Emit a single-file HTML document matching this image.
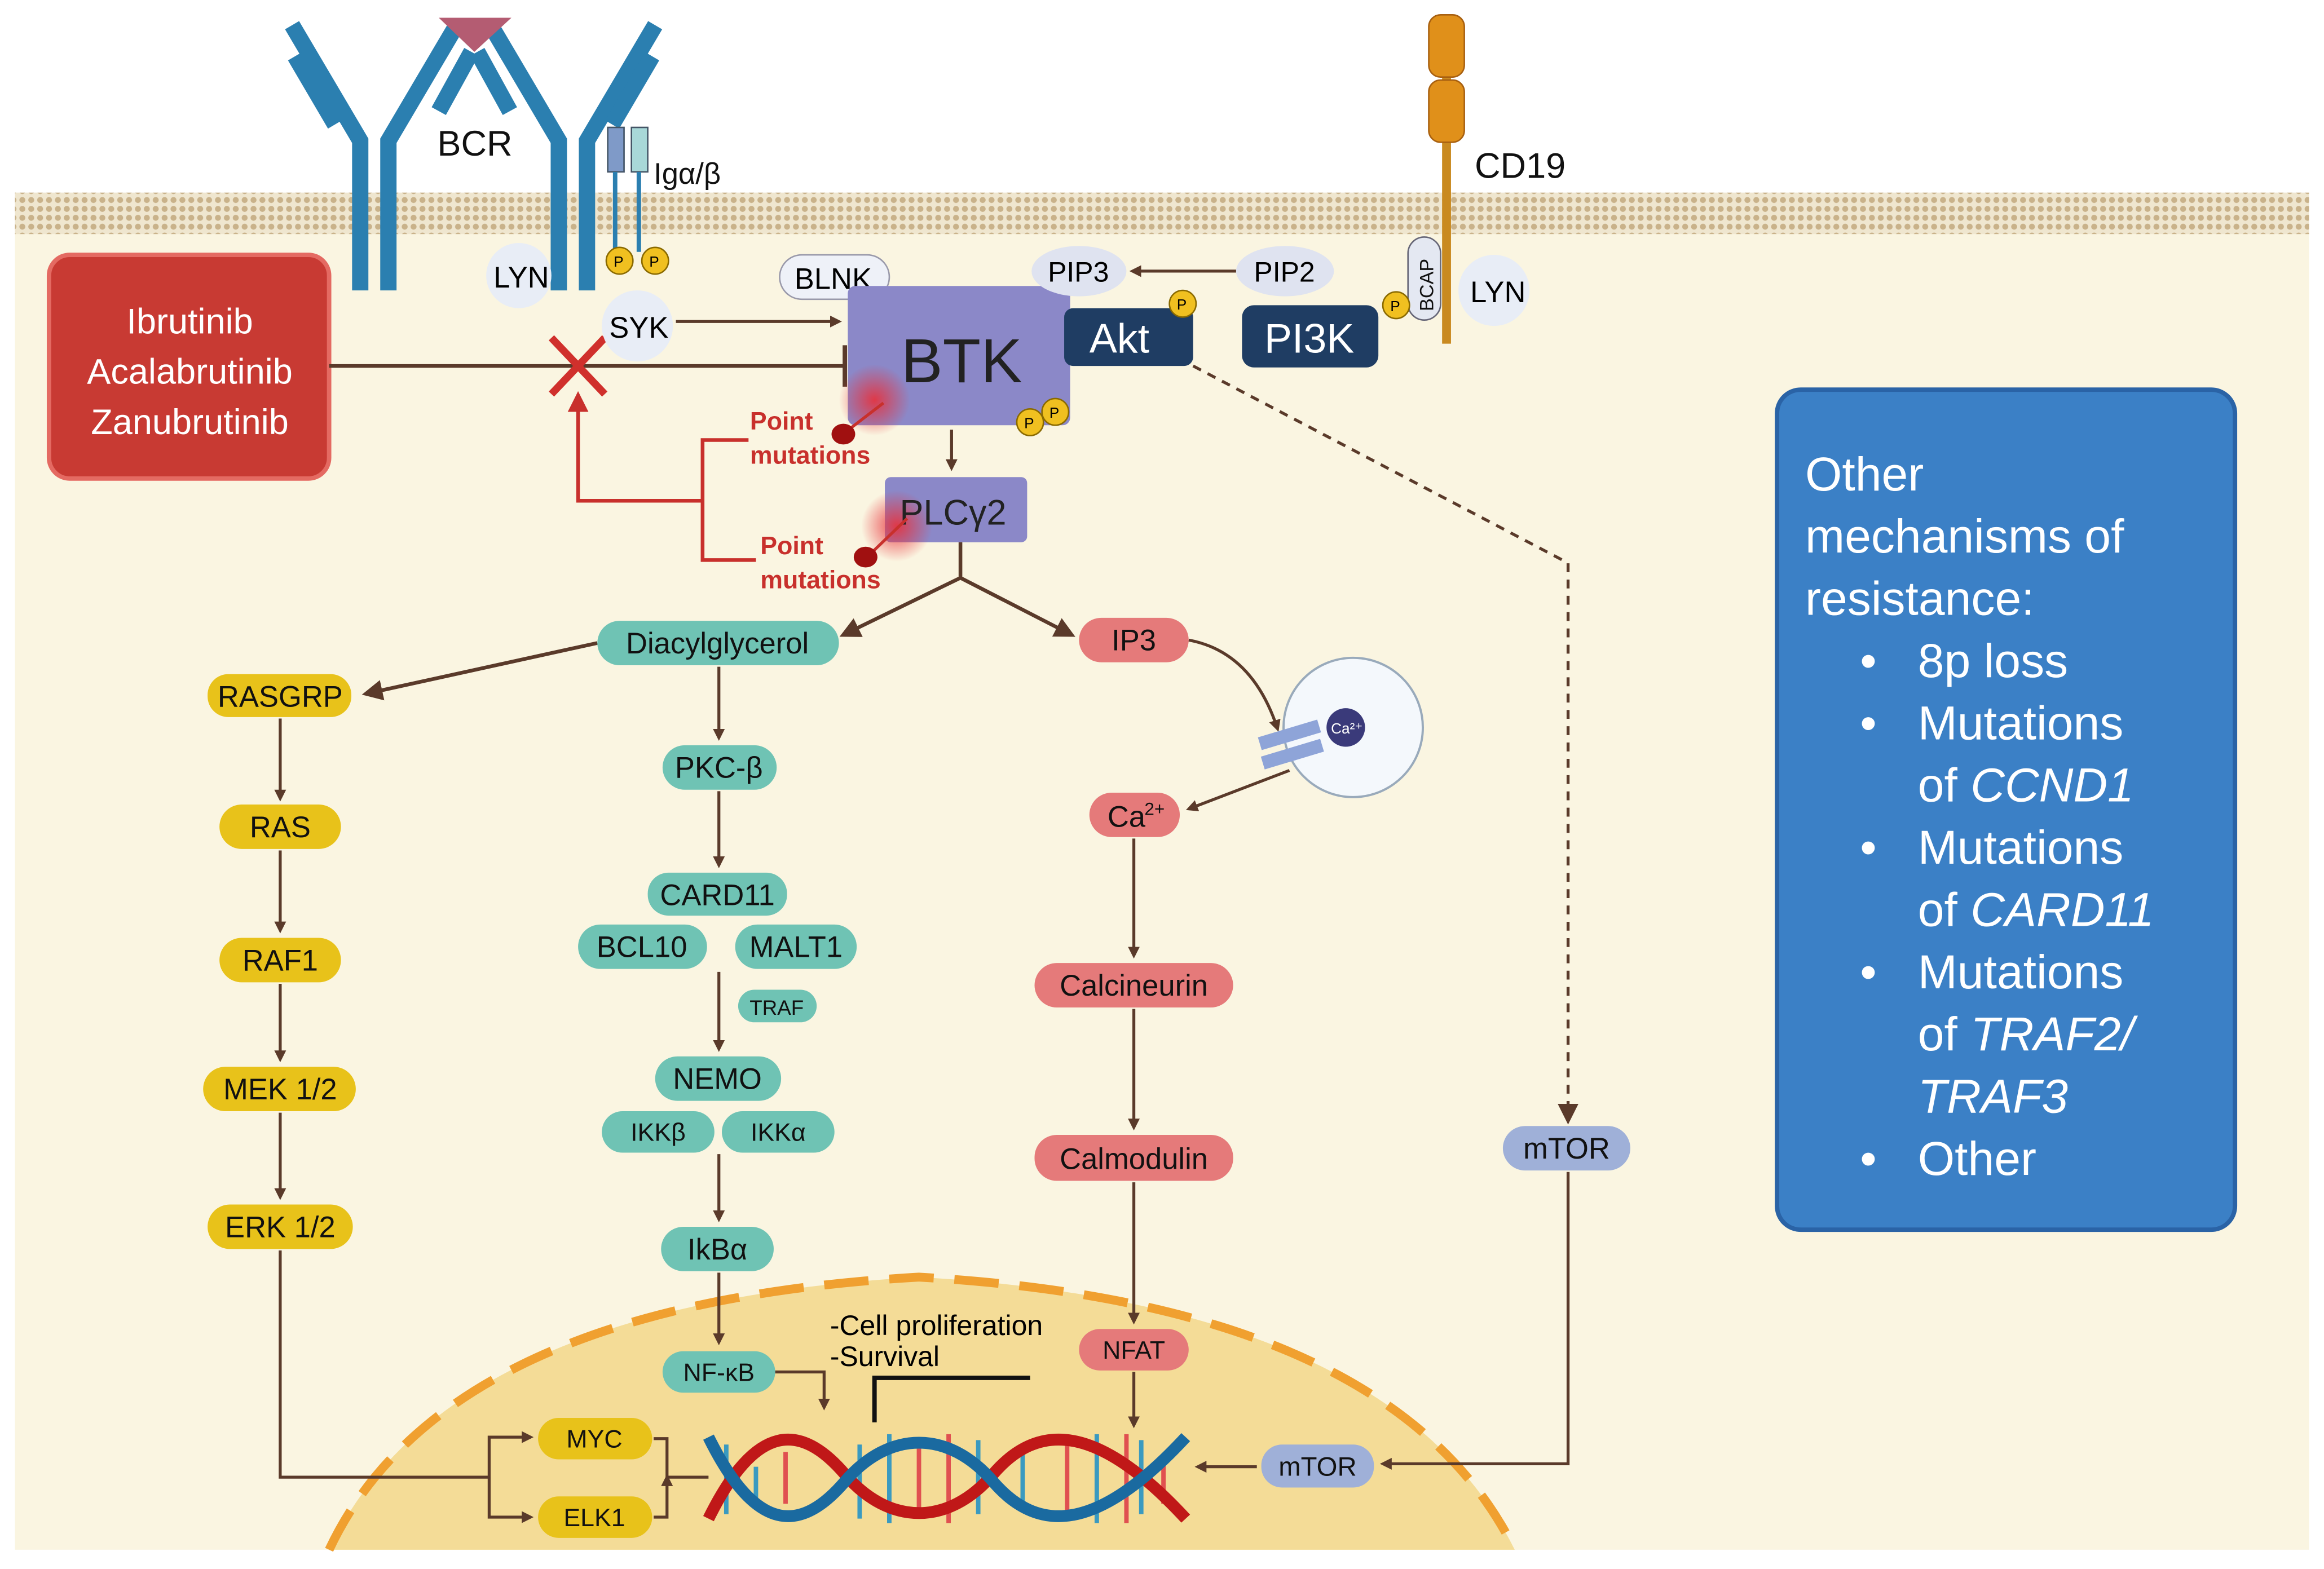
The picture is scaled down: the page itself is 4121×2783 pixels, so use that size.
<!DOCTYPE html>
<html><head><meta charset="utf-8"><style>
html,body{margin:0;padding:0;background:#fff}
svg{display:block}
text{font-family:"Liberation Sans",sans-serif}
</style></head><body>
<svg width="4121" height="2783" viewBox="0 0 1568 1059" xmlns="http://www.w3.org/2000/svg">
<defs>
<marker id="a" markerWidth="8" markerHeight="8" refX="6" refY="4" orient="auto" markerUnits="userSpaceOnUse" viewBox="0 0 8 8"><path d="M0,0 L8,4 L0,8 z" fill="#5a3a2a"/></marker>
<marker id="ab" markerWidth="14" markerHeight="14" refX="10" refY="7" orient="auto" markerUnits="userSpaceOnUse" viewBox="0 0 14 14"><path d="M0,0 L14,7 L0,14 z" fill="#5a3a2a"/></marker>
<marker id="ar" markerWidth="14" markerHeight="14" refX="10" refY="7" orient="auto" markerUnits="userSpaceOnUse" viewBox="0 0 14 14"><path d="M0,0 L14,7 L0,14 z" fill="#c8302c"/></marker>
<pattern id="mem" width="6" height="6" patternUnits="userSpaceOnUse"><rect width="6" height="6" fill="#efe6cf"/><circle cx="3" cy="3" r="2" fill="#c9b28a"/></pattern>
<radialGradient id="glow"><stop offset="0" stop-color="#e8303a" stop-opacity="0.9"/><stop offset="1" stop-color="#e8303a" stop-opacity="0"/></radialGradient>
</defs>
<rect width="1568" height="1059" fill="#fff"/>
<rect x="10" y="150" width="1548" height="896" fill="#faf5e1"/>
<rect x="10" y="130" width="1548" height="28" fill="url(#mem)"/>
<!-- nucleus -->
<path d="M222,1046 Q300,880 620,862 Q940,880 1022,1046 Z" fill="#f4dc97"/>
<path d="M222,1046 Q300,880 620,862 Q940,880 1022,1046" fill="none" stroke="#f0a030" stroke-width="6" stroke-dasharray="30,14"/>
<!-- BCR -->
<g stroke="#2b7fb0" stroke-width="11" fill="none" stroke-linecap="butt">
<path d="M243,196 V95 L197,17"/><path d="M262,196 V95 L308,17"/>
<path d="M377,196 V95 L331,17"/><path d="M396,196 V95 L442,17"/>
<path d="M226,84 L199,38"/><path d="M296,75 L318,35"/><path d="M344,75 L322,35"/><path d="M413,84 L440,38"/>
</g>
<path d="M296,12 L345,12 L320,35 Z" fill="#b45c72"/>
<text x="295" y="105" font-size="24" fill="#111">BCR</text>
<rect x="410" y="86" width="11" height="30" fill="#7f9ac8" stroke="#456" stroke-width="1"/>
<rect x="426" y="86" width="11" height="30" fill="#a8d8d8" stroke="#456" stroke-width="1"/>
<line x1="415" y1="116" x2="415" y2="170" stroke="#2b7fb0" stroke-width="3"/>
<line x1="431" y1="116" x2="431" y2="170" stroke="#2b7fb0" stroke-width="3"/>
<text x="441" y="124" font-size="20" fill="#111">Igα/β</text>
<circle cx="418" cy="176" r="9" fill="#f0c020" stroke="#8a6a00"/><text x="414" y="180" font-size="10">P</text>
<circle cx="442" cy="176" r="9" fill="#f0c020" stroke="#8a6a00"/><text x="438" y="180" font-size="10">P</text>
<!-- CD19 -->
<line x1="976" y1="40" x2="976" y2="232" stroke="#c98a20" stroke-width="6"/>
<rect x="964" y="10" width="24" height="42" rx="8" fill="#e0901a" stroke="#a86010"/>
<rect x="964" y="54" width="24" height="42" rx="8" fill="#e0901a" stroke="#a86010"/>
<text x="995" y="120" font-size="24" fill="#111">CD19</text>
<rect x="950" y="160" width="22" height="56" rx="11" fill="#e4e8f2" stroke="#667"/>
<text x="967" y="210" font-size="13" transform="rotate(-90 967 210)" fill="#111">BCAP</text>
<circle cx="942" cy="206" r="9" fill="#f0c020" stroke="#8a6a00"/><text x="938" y="210" font-size="10">P</text>
<circle cx="1008" cy="196" r="24" fill="#e8edf6"/><text x="992" y="204" font-size="20">LYN</text>
<!-- drug box -->
<rect x="33" y="172" width="189" height="151" rx="14" fill="#c83a33" stroke="#e46a62" stroke-width="3"/>
<g font-size="24" fill="#fff" text-anchor="middle"><text x="128" y="225">Ibrutinib</text><text x="128" y="259">Acalabrutinib</text><text x="128" y="293">Zanubrutinib</text></g>
<line x1="222" y1="247" x2="570" y2="247" stroke="#5a3a2a" stroke-width="2.5"/>
<line x1="570" y1="233" x2="570" y2="261" stroke="#5a3a2a" stroke-width="3"/>
<path d="M372,228 L408,266 M408,228 L372,266" stroke="#d0302c" stroke-width="5"/>
<!-- LYN SYK BLNK -->
<circle cx="350" cy="186" r="22" fill="#e8edf6"/><text x="333" y="194" font-size="20">LYN</text>
<circle cx="430" cy="220" r="24" fill="#e8edf6"/><text x="411" y="228" font-size="20">SYK</text>
<line x1="456" y1="217" x2="566" y2="217" stroke="#5a3a2a" stroke-width="2" marker-end="url(#a)"/>
<rect x="526" y="172" width="74" height="30" rx="15" fill="#eef1f8" stroke="#99a"/><text x="536" y="195" font-size="20">BLNK</text>
<!-- BTK -->
<rect x="572" y="193" width="150" height="94" rx="5" fill="#8b88c8"/>
<text x="608" y="258" font-size="42" fill="#222">BTK</text>
<circle cx="695" cy="285" r="9" fill="#f0c020" stroke="#8a6a00"/><text x="691" y="289" font-size="10">P</text>
<circle cx="712" cy="278" r="9" fill="#f0c020" stroke="#8a6a00"/><text x="708" y="282" font-size="10">P</text>
<rect x="718" y="208" width="87" height="39" rx="6" fill="#1f3d63"/><text x="735" y="238" font-size="28" fill="#fff">Akt</text>
<circle cx="798" cy="205" r="9" fill="#f0c020" stroke="#8a6a00"/><text x="794" y="209" font-size="10">P</text>
<rect x="838" y="206" width="92" height="42" rx="8" fill="#1f3d63"/><text x="853" y="238" font-size="28" fill="#fff">PI3K</text>
<ellipse cx="728" cy="183" rx="32" ry="17" fill="#dfe3f0"/><text x="707" y="190" font-size="19">PIP3</text>
<ellipse cx="867" cy="183" rx="33" ry="17" fill="#dfe3f0"/><text x="846" y="190" font-size="19">PIP2</text>
<line x1="834" y1="183" x2="764" y2="183" stroke="#5a3a2a" stroke-width="2" marker-end="url(#a)"/>
<path d="M805,247 L1058,380 V755" fill="none" stroke="#5a3a2a" stroke-width="2" stroke-dasharray="6,5" marker-end="url(#ab)"/>
<!-- mutations -->
<circle cx="590" cy="270" r="24" fill="url(#glow)"/>
<line x1="570" y1="292" x2="596" y2="272" stroke="#c8302c" stroke-width="2"/>
<ellipse cx="569" cy="293" rx="8" ry="7" fill="#a01010"/>
<text x="506" y="290" font-size="17" fill="#c8302c" font-weight="bold">Point</text>
<text x="506" y="313" font-size="17" fill="#c8302c" font-weight="bold">mutations</text>
<line x1="642" y1="290" x2="642" y2="316" stroke="#5a3a2a" stroke-width="2" marker-end="url(#a)"/>
<rect x="597" y="322" width="96" height="44" rx="4" fill="#8b88c8"/>
<circle cx="605" cy="355" r="24" fill="url(#glow)"/>
<text x="607" y="354" font-size="24" fill="#222">PLCγ2</text>
<line x1="585" y1="376" x2="612" y2="350" stroke="#c8302c" stroke-width="2"/>
<ellipse cx="584" cy="376" rx="8" ry="7" fill="#a01010"/>
<text x="513" y="374" font-size="17" fill="#c8302c" font-weight="bold">Point</text>
<text x="513" y="397" font-size="17" fill="#c8302c" font-weight="bold">mutations</text>
<path d="M505,297 H474 V378 H510 M474,338 H390 V268" fill="none" stroke="#c8302c" stroke-width="2.5" marker-end="url(#ar)"/>
<!-- branches -->
<g stroke="#5a3a2a" stroke-width="2.5" fill="none">
<path d="M648,366 V390 L570,428" marker-end="url(#ab)"/>
<path d="M648,390 L722,428" marker-end="url(#ab)"/>
<path d="M403,434 L248,468" marker-end="url(#ab)"/>
</g>
<g stroke="#5a3a2a" stroke-width="2" fill="none" marker-end="url(#a)">
<line x1="189" y1="485" x2="189" y2="539"/><line x1="189" y1="574" x2="189" y2="628"/><line x1="189" y1="664" x2="189" y2="715"/><line x1="189" y1="751" x2="189" y2="808"/>
<line x1="485" y1="450" x2="485" y2="498"/><line x1="485" y1="534" x2="485" y2="584"/><line x1="485" y1="656" x2="485" y2="708"/><line x1="485" y1="779" x2="485" y2="823"/><line x1="485" y1="859" x2="485" y2="906"/>
<line x1="765" y1="566" x2="765" y2="645"/><line x1="765" y1="681" x2="765" y2="761"/><line x1="765" y1="798" x2="765" y2="892"/>
<line x1="765" y1="926" x2="765" y2="962"/>
<path d="M189,844 V997 H330 V970 H358"/><path d="M330,997 V1024 H358"/>
<path d="M1058,791 V988 H933"/>
<line x1="848" y1="990" x2="808" y2="990"/>
<path d="M441,971 H450 V997 H478 M441,1024 H450 V997"/>
<path d="M523,926 H556 V950"/>
<path d="M802,432 Q845,440 862,492"/>
<path d="M870,520 L802,546"/>
</g>
<!-- nodes -->
<g font-size="20" text-anchor="middle" fill="#111">
<rect x="403" y="419" width="163" height="30" rx="15" fill="#6fc3b4"/><text x="484" y="441">Diacylglycerol</text>
<rect x="728" y="417" width="74" height="30" rx="15" fill="#e57a7a"/><text x="765" y="439">IP3</text>
<rect x="140" y="455" width="97" height="29" rx="14" fill="#e8c21a"/><text x="189" y="477">RASGRP</text>
<rect x="148" y="543" width="82" height="30" rx="15" fill="#e8c21a"/><text x="189" y="565">RAS</text>
<rect x="148" y="633" width="82" height="30" rx="15" fill="#e8c21a"/><text x="189" y="655">RAF1</text>
<rect x="137" y="720" width="103" height="30" rx="15" fill="#e8c21a"/><text x="189" y="742">MEK 1/2</text>
<rect x="140" y="813" width="98" height="30" rx="15" fill="#e8c21a"/><text x="189" y="835">ERK 1/2</text>
<rect x="447" y="503" width="77" height="30" rx="15" fill="#6fc3b4"/><text x="485" y="525">PKC-β</text>
<rect x="437" y="589" width="94" height="29" rx="14" fill="#6fc3b4"/><text x="484" y="611">CARD11</text>
<rect x="390" y="624" width="87" height="30" rx="15" fill="#6fc3b4"/><text x="433" y="646">BCL10</text>
<rect x="496" y="624" width="82" height="30" rx="15" fill="#6fc3b4"/><text x="537" y="646">MALT1</text>
<rect x="498" y="668" width="53" height="22" rx="11" fill="#6fc3b4"/><text x="524" y="685" font-size="14">TRAF</text>
<rect x="442" y="713" width="85" height="30" rx="15" fill="#6fc3b4"/><text x="484" y="735">NEMO</text>
<rect x="406" y="750" width="76" height="28" rx="14" fill="#6fc3b4"/><text x="444" y="770" font-size="17">IKKβ</text>
<rect x="487" y="750" width="76" height="28" rx="14" fill="#6fc3b4"/><text x="525" y="770" font-size="17">IKKα</text>
<rect x="446" y="828" width="76" height="30" rx="15" fill="#6fc3b4"/><text x="484" y="850">IkBα</text>
<rect x="447" y="912" width="76" height="28" rx="14" fill="#6fc3b4"/><text x="485" y="932" font-size="17">NF-κB</text>
<rect x="735" y="535" width="61" height="30" rx="15" fill="#e57a7a"/><text x="760" y="558">Ca</text><text x="779" y="550" font-size="12">2+</text>
<rect x="698" y="650" width="134" height="30" rx="15" fill="#e57a7a"/><text x="765" y="672">Calcineurin</text>
<rect x="698" y="766" width="134" height="31" rx="15" fill="#e57a7a"/><text x="765" y="789">Calmodulin</text>
<rect x="728" y="897" width="74" height="28" rx="14" fill="#e57a7a"/><text x="765" y="917" font-size="17">NFAT</text>
<rect x="1014" y="760" width="86" height="30" rx="15" fill="#9fb0d8"/><text x="1057" y="782">mTOR</text>
<rect x="851" y="975" width="76" height="29" rx="14" fill="#9fb0d8"/><text x="889" y="996" font-size="18">mTOR</text>
<rect x="363" y="957" width="77" height="28" rx="14" fill="#e8c21a"/><text x="401" y="977" font-size="17">MYC</text>
<rect x="363" y="1010" width="77" height="28" rx="14" fill="#e8c21a"/><text x="401" y="1030" font-size="17">ELK1</text>
</g>
<!-- ER -->
<circle cx="913" cy="491" r="47" fill="#f4f8fc" stroke="#9ab" stroke-width="1.5"/>
<circle cx="908" cy="491" r="13" fill="#3a3a7a"/><text x="898" y="495" font-size="10" fill="#fff">Ca²⁺</text>
<path d="M850,502 L890,490 M852,515 L892,503" stroke="#8ea4d8" stroke-width="9"/>
<!-- text -->
<text x="560" y="901" font-size="19">-Cell proliferation</text>
<text x="560" y="922" font-size="19">-Survival</text>
<path d="M590,960 V930 H695" fill="none" stroke="#111" stroke-width="3"/>
<!-- DNA -->
<g stroke-width="3">
<g stroke="#3a9ac0"><line x1="490" y1="975" x2="490" y2="1022"/><line x1="510" y1="990" x2="510" y2="1012"/><line x1="580" y1="975" x2="580" y2="1025"/><line x1="600" y1="968" x2="600" y2="1028"/><line x1="660" y1="972" x2="660" y2="1022"/><line x1="690" y1="980" x2="690" y2="1015"/><line x1="740" y1="968" x2="740" y2="1028"/><line x1="770" y1="972" x2="770" y2="1022"/></g>
<g stroke="#e05050"><line x1="530" y1="980" x2="530" y2="1015"/><line x1="620" y1="970" x2="620" y2="1025"/><line x1="640" y1="968" x2="640" y2="1028"/><line x1="720" y1="975" x2="720" y2="1020"/><line x1="760" y1="968" x2="760" y2="1028"/><line x1="785" y1="985" x2="785" y2="1015"/></g>
</g>
<path d="M478,1025 C510,960 540,960 570,995 S640,1030 670,995 S740,960 800,1025" fill="none" stroke="#c01818" stroke-width="8"/>
<path d="M478,970 C510,1035 540,1035 570,1000 S640,965 670,1000 S740,1035 800,970" fill="none" stroke="#1a6aa0" stroke-width="8"/>
<!-- blue box -->
<rect x="1199" y="263" width="309" height="567" rx="16" fill="#3b80c6" stroke="#2a63a6" stroke-width="3"/>
<g font-size="32" fill="#fff">
<text x="1218" y="331">Other</text>
<text x="1218" y="373">mechanisms of</text>
<text x="1218" y="415">resistance:</text>
<text x="1255" y="457">•</text><text x="1294" y="457">8p loss</text>
<text x="1255" y="499">•</text><text x="1294" y="499">Mutations</text>
<text x="1294" y="541">of <tspan font-style="italic">CCND1</tspan></text>
<text x="1255" y="583">•</text><text x="1294" y="583">Mutations</text>
<text x="1294" y="625">of <tspan font-style="italic">CARD11</tspan></text>
<text x="1255" y="667">•</text><text x="1294" y="667">Mutations</text>
<text x="1294" y="709">of <tspan font-style="italic">TRAF2/</tspan></text>
<text x="1294" y="751" font-style="italic">TRAF3</text>
<text x="1255" y="793">•</text><text x="1294" y="793">Other</text>
</g>
</svg>
</body></html>
